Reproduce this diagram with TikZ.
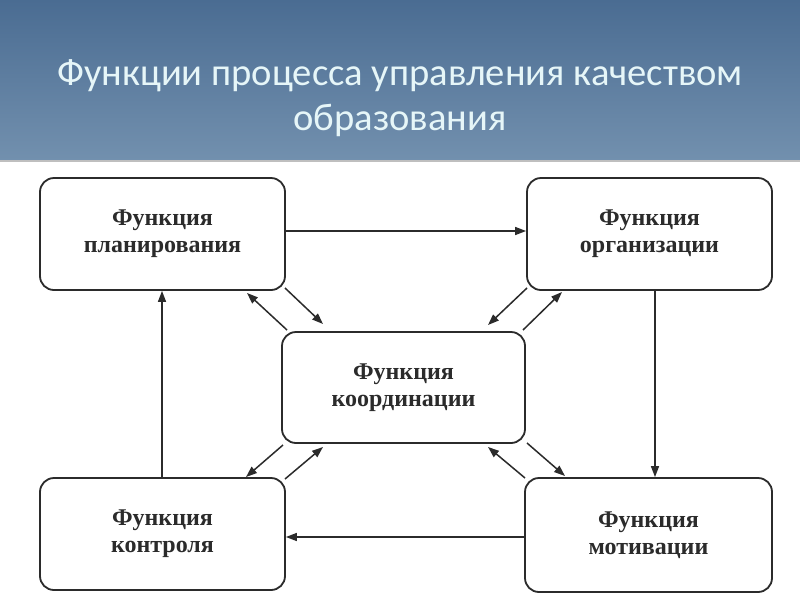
\documentclass[tikz,border=0pt]{standalone}
\usepackage{fontspec}
\setmainfont{Liberation Serif}
\newfontfamily\titlefont{Carlito}
\usetikzlibrary{arrows.meta}
\definecolor{bandtop}{HTML}{4A6C92}
\definecolor{bandbot}{HTML}{7290AE}
\definecolor{titlecol}{HTML}{E6F6F8}
\definecolor{inkc}{HTML}{2B2B2B}
\tikzset{
  fbox/.style={draw=inkc, line width=1.8pt, rounded corners=14pt, fill=white, inner sep=0pt,
    minimum width=245pt, minimum height=112pt, align=center,
    font=\fontsize{24}{27}\selectfont\bfseries, text=inkc},
  conn/.style={draw=inkc, line width=1.5pt, -{Triangle[length=11pt,width=8pt]}},
}
\begin{document}
\begin{tikzpicture}[x=1pt,y=-1pt]
\useasboundingbox (0,0) rectangle (800,600);
\fill[white] (0,0) rectangle (800,600);
\shade[top color=bandtop, bottom color=bandbot] (0,0) rectangle (800,160);
\fill[black!25] (0,160) rectangle (800,162);
\node[titlecol, font=\titlefont\fontsize{38.6}{45}\selectfont, align=center] (title) at (400,98)
  {Функции процесса управления качеством\\образования};
\node[fbox] (plan) at (162.5,234) {Функция\\планирования};
\node[fbox] (org) at (649.5,234) {Функция\\организации};
\node[fbox, minimum width=243pt, minimum height=111pt] (coord) at (403.5,387.5) {Функция\\координации};
\node[fbox] (ctrl) at (162.5,534) {Функция\\контроля};
\node[fbox, minimum width=247pt, minimum height=114pt] (motiv) at (648.5,535) {Функция\\мотивации};
% cycle
\draw[conn] (plan.east |- 0,231) -- (org.west |- 0,231);
\draw[conn] (org.south -| 655,0) -- (motiv.north -| 655,0);
\draw[conn] (motiv.west |- 0,537) -- (ctrl.east |- 0,537);
\draw[conn] (ctrl.north -| 162,0) -- (plan.south -| 162,0);
% diagonals
\coordinate (a1) at (287,330); \coordinate (a2) at (247,293);
\coordinate (b1) at (285,288); \coordinate (b2) at (323,324);
\draw[conn] (a1) -- (a2);
\draw[conn] (b1) -- (b2);
\coordinate (c1) at (527,288); \coordinate (c2) at (488,325);
\coordinate (d1) at (523,330); \coordinate (d2) at (562,292);
\draw[conn] (c1) -- (c2);
\draw[conn] (d1) -- (d2);
\coordinate (e1) at (283,445); \coordinate (e2) at (246,477);
\coordinate (f1) at (285,479); \coordinate (f2) at (323,447);
\draw[conn] (e1) -- (e2);
\draw[conn] (f1) -- (f2);
\coordinate (g1) at (525,478); \coordinate (g2) at (488,447);
\coordinate (h1) at (527,443); \coordinate (h2) at (565,476);
\draw[conn] (g1) -- (g2);
\draw[conn] (h1) -- (h2);
\end{tikzpicture}
\end{document}
